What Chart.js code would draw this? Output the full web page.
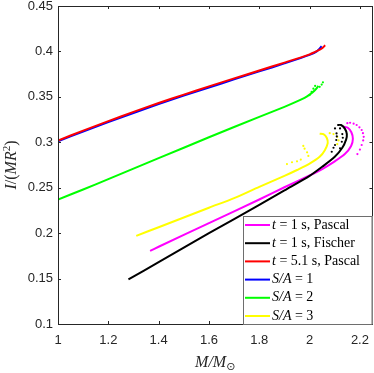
<!DOCTYPE html>
<html>
<head>
<meta charset="utf-8">
<script src="https://cdn.jsdelivr.net/npm/chart.js@4"></script>
<style>
  html, body { margin: 0; padding: 0; background: #fff; overflow: hidden; }
  #wrap { width: 374px; height: 373px; position: relative; }
</style>
</head>
<body>
<div id="wrap"><canvas id="chart"></canvas></div>
<script>
// ticks
const xTicks = [1, 1.2, 1.4, 1.6, 1.8, 2, 2.2];
const xTickLabels = ['1', '1.2', '1.4', '1.6', '1.8', '2', '2.2'];
const yTicks = [0.1, 0.15, 0.2, 0.25, 0.3, 0.35, 0.4, 0.45];
const yTickLabels = ['0.1', '0.15', '0.2', '0.25', '0.3', '0.35', '0.4', '0.45'];

// t = 1 s, Pascal (magenta)
const pascal1X = [1.366, 1.4, 1.6, 1.8, 1.9, 2.0, 2.05, 2.1, 2.14, 2.165, 2.172, 2.166, 2.152, 2.136];
const pascal1Y = [0.1805, 0.185, 0.211, 0.237, 0.2505, 0.2635, 0.2705, 0.279, 0.287, 0.296, 0.304, 0.311, 0.316, 0.317];
const pascal1DotsX = [2.15, 2.161, 2.175, 2.187, 2.198, 2.207, 2.212, 2.215, 2.213, 2.207, 2.2, 2.19];
const pascal1DotsY = [0.321, 0.3215, 0.3205, 0.319, 0.3165, 0.3135, 0.31, 0.306, 0.302, 0.297, 0.292, 0.287];

// t = 1 s, Fischer (black)
const fischer1X = [1.28, 1.4, 1.6, 1.8, 1.9, 2.0, 2.05, 2.1, 2.13, 2.145, 2.148, 2.14, 2.125, 2.11];
const fischer1Y = [0.149, 0.168, 0.2, 0.231, 0.247, 0.263, 0.273, 0.284, 0.294, 0.303, 0.309, 0.315, 0.319, 0.319];
const fischer1DotsX = [2.088, 2.095, 2.101, 2.106, 2.108, 2.107, 2.101, 2.121, 2.128, 2.132, 2.13, 2.121];
const fischer1DotsY = [0.2896, 0.294, 0.297, 0.3025, 0.3065, 0.3098, 0.3153, 0.2933, 0.3006, 0.305, 0.309, 0.3153];

// t = 5.1 s, Pascal (red)
const pascal51X = [1.0, 1.1, 1.2, 1.3, 1.4, 1.5, 1.6, 1.7, 1.8, 1.9, 2.0, 2.03, 2.05, 2.062];
const pascal51Y = [0.302, 0.3128, 0.3233, 0.3335, 0.3432, 0.3525, 0.3615, 0.3703, 0.379, 0.3877, 0.3968, 0.4005, 0.4035, 0.4068];

// S/A = 1 (blue)
const sa1X = [1.0, 1.1, 1.2, 1.3, 1.4, 1.5, 1.6, 1.7, 1.8, 1.9, 2.0, 2.03, 2.048];
const sa1Y = [0.3012, 0.3118, 0.3222, 0.3323, 0.342, 0.3513, 0.3603, 0.3692, 0.378, 0.3868, 0.3962, 0.4003, 0.4057];

// S/A = 2 (green)
const sa2X = [1.0, 1.1, 1.2, 1.4, 1.6, 1.8, 1.9, 1.95, 1.98, 2.0, 2.02, 2.035];
const sa2Y = [0.237, 0.248, 0.2595, 0.2825, 0.3055, 0.328, 0.339, 0.345, 0.349, 0.3525, 0.357, 0.362];
const sa2DotsX = [2.0, 2.008, 2.015, 2.022, 2.04, 2.048, 2.053];
const sa2DotsY = [0.352, 0.3555, 0.359, 0.362, 0.361, 0.3635, 0.366];

// S/A = 3 (yellow)
const sa3X = [1.311, 1.4, 1.6, 1.7, 1.8, 1.9, 1.95, 2.0, 2.04, 2.06, 2.072, 2.068, 2.055, 2.04];
const sa3Y = [0.197, 0.2065, 0.228, 0.2385, 0.251, 0.263, 0.2695, 0.2765, 0.284, 0.291, 0.299, 0.305, 0.309, 0.3095];
const sa3DotsX = [2.08, 2.095, 2.11, 2.115, 2.11, 1.975, 1.98, 1.99, 1.995, 1.91, 1.93, 1.95, 1.965];
const sa3DotsY = [0.31, 0.309, 0.306, 0.302, 0.298, 0.296, 0.293, 0.289, 0.285, 0.276, 0.278, 0.279, 0.281];

const legendItalic = ['t', 't', 't', 'S/A', 'S/A', 'S/A'];
const legendRest = [' = 1 s, Pascal', ' = 1 s, Fischer', ' = 5.1 s, Pascal', ' = 1', ' = 2', ' = 3'];

function pts(xs, ys) {
  return xs.map((x, i) => ({ x: x, y: ys[i] }));
}

function lineSet(label, xs, ys, color, order) {
  return {
    label: label, data: pts(xs, ys), showLine: true, borderColor: color,
    backgroundColor: color, borderWidth: 2, pointRadius: 0, order: order,
    tension: 0.25
  };
}

function dotSet(xs, ys, color, order) {
  return {
    label: '', data: pts(xs, ys), showLine: false, borderColor: color,
    backgroundColor: color, pointRadius: 1.1, borderWidth: 0, order: order
  };
}

const AXIS_COLOR = '#262626';
const noPadding = () => ({ left: 0, top: 0, right: 0, bottom: 0 });

// Kotak, tick ke dalam, judul sumbu dan legenda
const framePlugin = {
  id: 'frame',
  afterDraw(chart) {
    const ctx = chart.ctx;
    const a = chart.chartArea;
    const xs = chart.scales.x, ys = chart.scales.y;
    ctx.save();
    ctx.strokeStyle = AXIS_COLOR;
    ctx.lineWidth = 1;
    ctx.strokeRect(Math.round(a.left) + 0.5, Math.round(a.top) + 0.5,
      Math.round(a.right - a.left) - 1, Math.round(a.bottom - a.top));
    ctx.beginPath();
    xTicks.forEach(v => {
      const px = Math.round(xs.getPixelForValue(v)) + 0.5;
      ctx.moveTo(px, a.bottom); ctx.lineTo(px, a.bottom - 3);
      ctx.moveTo(px, a.top); ctx.lineTo(px, a.top + 3);
    });
    yTicks.forEach(v => {
      const py = Math.round(ys.getPixelForValue(v)) + 0.5;
      ctx.moveTo(a.left, py); ctx.lineTo(a.left + 3, py);
      ctx.moveTo(a.right, py); ctx.lineTo(a.right - 3, py);
    });
    ctx.stroke();

    // legenda
    const lx = 243, ly = 216, lw = a.right - lx, lh = a.bottom - ly;
    ctx.fillStyle = '#fff';
    ctx.fillRect(lx, ly, lw, lh);
    ctx.strokeStyle = '#6e6e6e';
    ctx.strokeRect(lx + 0.5, ly + 0.5, lw - 1, lh);
    ctx.textBaseline = 'middle';
    for (let i = 0; i < 6; i++) {
      const ds = chart.data.datasets[i];
      const y = ly + 9 + i * 18.2;
      ctx.strokeStyle = ds.borderColor;
      ctx.lineWidth = 2;
      ctx.beginPath();
      ctx.moveTo(lx + 2, y); ctx.lineTo(lx + 27, y);
      ctx.stroke();
      ctx.fillStyle = '#000';
      ctx.font = 'italic 14px "Liberation Serif"';
      ctx.fillText(legendItalic[i], lx + 29, y);
      const w = ctx.measureText(legendItalic[i]).width;
      ctx.font = '14px "Liberation Serif"';
      ctx.fillText(legendRest[i], lx + 29 + w, y);
    }

    // judul sumbu x
    ctx.fillStyle = AXIS_COLOR;
    ctx.textBaseline = 'alphabetic';
    ctx.font = 'italic 16px "Liberation Serif"';
    const t1 = 'M/M';
    const w1 = ctx.measureText(t1).width;
    ctx.font = '11px "DejaVu Sans"';
    const w2 = ctx.measureText('\u2299').width;
    const cx = (a.left + a.right) / 2 - (w1 + w2) / 2;
    ctx.font = 'italic 16px "Liberation Serif"';
    ctx.fillText(t1, cx, 367);
    ctx.font = '11px "DejaVu Sans"';
    ctx.fillText('\u2299', cx + w1, 370);

    // judul sumbu y
    ctx.save();
    ctx.translate(16, (a.top + a.bottom) / 2);
    ctx.rotate(-Math.PI / 2);
    const p1 = 'I', p2 = '/(', p3 = 'MR', p4 = '2', p5 = ')';
    ctx.font = 'italic 16px "Liberation Serif"'; const a1 = ctx.measureText(p1).width;
    ctx.font = '16px "Liberation Serif"'; const a2 = ctx.measureText(p2).width;
    ctx.font = 'italic 16px "Liberation Serif"'; const a3 = ctx.measureText(p3).width;
    ctx.font = '11px "Liberation Serif"'; const a4 = ctx.measureText(p4).width;
    ctx.font = '16px "Liberation Serif"'; const a5 = ctx.measureText(p5).width;
    let x0 = -(a1 + a2 + a3 + a4 + a5) / 2;
    ctx.font = 'italic 16px "Liberation Serif"'; ctx.fillText(p1, x0, 0); x0 += a1;
    ctx.font = '16px "Liberation Serif"'; ctx.fillText(p2, x0, 0); x0 += a2;
    ctx.font = 'italic 16px "Liberation Serif"'; ctx.fillText(p3, x0, 0); x0 += a3;
    ctx.font = '11px "Liberation Serif"'; ctx.fillText(p4, x0, -6); x0 += a4;
    ctx.font = '16px "Liberation Serif"'; ctx.fillText(p5, x0, 0);
    ctx.restore();
    ctx.restore();
  }
};

new Chart(document.getElementById('chart').getContext('2d'), {
  type: 'scatter',
  data: {
    datasets: [
      lineSet('t = 1 s, Pascal', pascal1X, pascal1Y, '#ff00ff', 4),
      lineSet('t = 1 s, Fischer', fischer1X, fischer1Y, '#000000', 3),
      lineSet('t = 5.1 s, Pascal', pascal51X, pascal51Y, '#ff0000', 1),
      lineSet('S/A = 1', sa1X, sa1Y, '#0000ff', 2),
      lineSet('S/A = 2', sa2X, sa2Y, '#00ff00', 2),
      lineSet('S/A = 3', sa3X, sa3Y, '#ffff00', 5),
      dotSet(pascal1DotsX, pascal1DotsY, '#ff00ff', 4),
      dotSet(fischer1DotsX, fischer1DotsY, '#000000', 3),
      dotSet(sa2DotsX, sa2DotsY, '#00ff00', 2),
      dotSet(sa3DotsX, sa3DotsY, '#ffff00', 5)
    ]
  },
  options: {
    responsive: true,
    maintainAspectRatio: false,
    animation: false,
    layout: { autoPadding: false, padding: { top: 6, right: 1.5, left: 0, bottom: 0 } },
    plugins: { legend: { display: false }, tooltip: { enabled: false } },
    scales: {
      x: {
        type: 'linear', min: 1, max: 2.25,
        grid: { display: false, drawTicks: false },
        border: { display: false },
        afterBuildTicks: s => { s.ticks = xTicks.map(v => ({ value: v })); },
        afterFit: s => { s.height = 49; s.getPadding = noPadding; },
        ticks: {
          color: AXIS_COLOR, padding: 9, maxRotation: 0,
          font: { family: '"Liberation Sans"', size: 13 },
          callback: v => xTickLabels[xTicks.findIndex(t => Math.abs(t - v) < 1e-9)]
        }
      },
      y: {
        type: 'linear', min: 0.1, max: 0.45,
        grid: { display: false, drawTicks: false },
        border: { display: false },
        afterBuildTicks: s => { s.ticks = yTicks.map(v => ({ value: v })); },
        afterFit: s => { s.width = 58; s.getPadding = noPadding; },
        ticks: {
          color: AXIS_COLOR, padding: 5,
          font: { family: '"Liberation Sans"', size: 13 },
          callback: v => yTickLabels[yTicks.findIndex(t => Math.abs(t - v) < 1e-9)]
        }
      }
    }
  },
  plugins: [framePlugin]
});
</script>
</body>
</html>
